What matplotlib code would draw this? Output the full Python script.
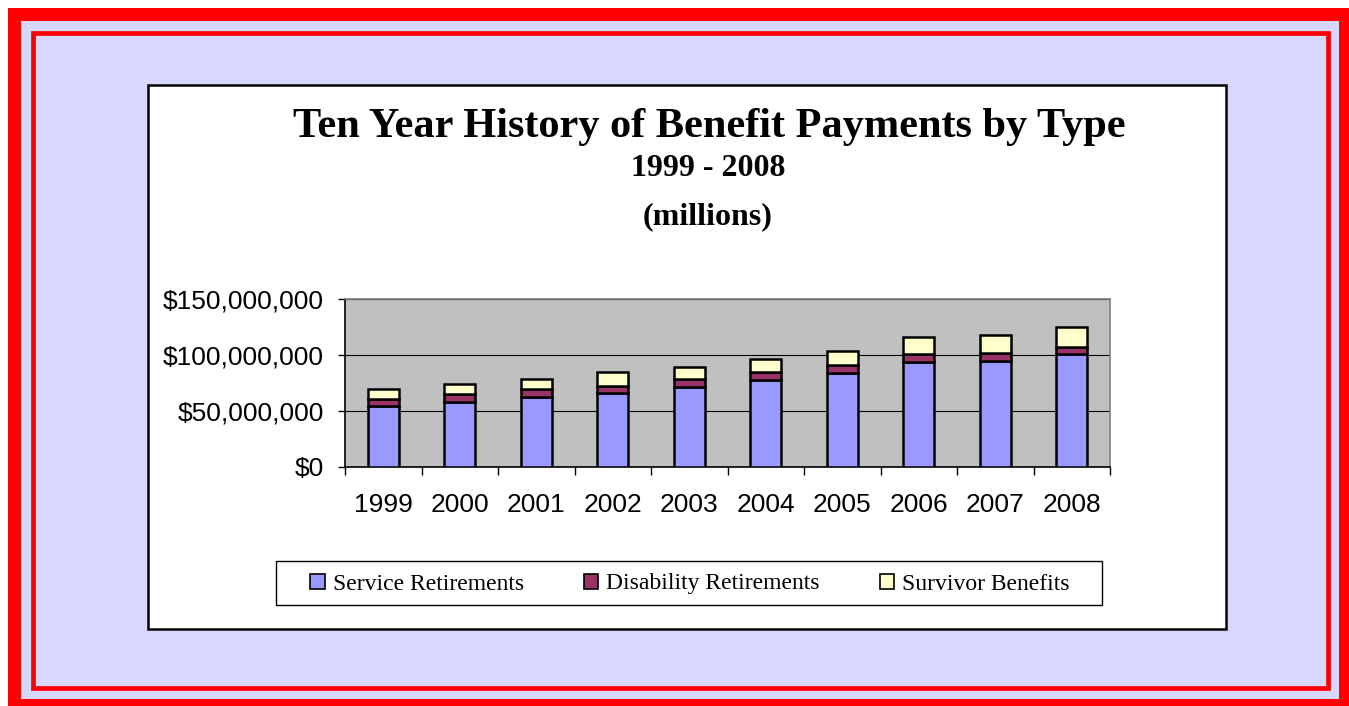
import numpy as np
import matplotlib
matplotlib.use("Agg")
import matplotlib.pyplot as plt
from matplotlib.patches import Rectangle, Patch
from matplotlib.ticker import FuncFormatter, MultipleLocator

years = ["1999", "2000", "2001", "2002", "2003", "2004", "2005", "2006", "2007", "2008"]
service = [54.2, 58.0, 62.2, 66.1, 71.4, 77.7, 84.2, 94.0, 94.9, 100.6]
disability = [6.8, 6.9, 7.2, 6.5, 6.9, 6.8, 6.6, 7.2, 6.9, 6.8]
survivor = [8.4, 9.5, 9.5, 11.9, 11.3, 12.2, 13.1, 15.1, 15.8, 17.9]
series_names = ["Service Retirements", "Disability Retirements", "Survivor Benefits"]
series_colors = ["#9999FF", "#993366", "#FFFFCC"]

W, H = 1349, 706

def box(x0, y0, x1, y1):
    # pixel box (top-left origin) -> figure fraction rectangle args
    return (x0 / W, 1 - y1 / H), (x1 - x0) / W, (y1 - y0) / H

fig = plt.figure(figsize=(W / 100, H / 100), dpi=100)
fig.patch.set_facecolor("white")

# red frame, lavender field, thin inner red rule, white chart panel
xy, w, h = box(8, 8, 1349, 706)
fig.patches.append(Rectangle(xy, w, h, transform=fig.transFigure, facecolor="#FF0000", edgecolor="none", zorder=0))
xy, w, h = box(21, 21, 1339, 699)
fig.patches.append(Rectangle(xy, w, h, transform=fig.transFigure, facecolor="#D8D8FF", edgecolor="none", zorder=1))
xy, w, h = box(32.5, 32.5, 1327.5, 687.5)
fig.patches.append(Rectangle(xy, w, h, transform=fig.transFigure, facecolor="none", edgecolor="#FF0000", linewidth=3.4, zorder=2))
xy, w, h = box(148, 85, 1226, 629)
fig.patches.append(Rectangle(xy, w, h, transform=fig.transFigure, facecolor="white", edgecolor="black", linewidth=1.8, zorder=3))
# legend frame
xy, w, h = box(276, 561, 1102, 605)
fig.patches.append(Rectangle(xy, w, h, transform=fig.transFigure, facecolor="white", edgecolor="black", linewidth=1.0, zorder=4))

ax = fig.add_axes([345 / W, 1 - 467 / H, 765 / W, 168 / H])
ax.set_zorder(5)
ax.set_facecolor("#C0C0C0")

x = np.arange(len(years))
svc = np.array(service) * 1e6
dis = np.array(disability) * 1e6
srv = np.array(survivor) * 1e6
bw = 0.4
ax.bar(x, svc, bw, color=series_colors[0], edgecolor="black", linewidth=1.8, zorder=3)
ax.bar(x, dis, bw, bottom=svc, color=series_colors[1], edgecolor="black", linewidth=1.8, zorder=3)
ax.bar(x, srv, bw, bottom=svc + dis, color=series_colors[2], edgecolor="black", linewidth=1.8, zorder=3)

ax.set_xlim(-0.5, len(years) - 0.5)
ax.set_ylim(0, 150e6)
ax.yaxis.set_major_locator(MultipleLocator(50e6))
ax.yaxis.set_major_formatter(FuncFormatter(lambda v, p: "${:,.0f}".format(v)))
ax.grid(axis="y", color="black", linewidth=0.8, zorder=1)
ax.set_axisbelow(True)

ax.set_xticks(x)
ax.set_xticklabels(years)
ax.set_xticks(np.arange(-0.5, len(years)), minor=True)
ax.tick_params(axis="x", which="major", length=0, pad=19, labelsize=19)
ax.tick_params(axis="x", which="minor", length=6, width=1, direction="out")
ax.tick_params(axis="y", length=5, width=1, direction="out", pad=10, labelsize=19)
for lab in ax.get_xticklabels() + ax.get_yticklabels():
    lab.set_fontfamily("Liberation Sans")

ax.spines["left"].set_color("black")
ax.spines["bottom"].set_color("black")
ax.spines["top"].set_color("#808080")
ax.spines["right"].set_color("#808080")
for s in ax.spines.values():
    s.set_linewidth(1.2)

fig.text(709 / W, 1 - 137 / H, "Ten Year History of Benefit Payments by Type", ha="center", va="baseline",
         fontsize=30.5, fontweight="bold", family="Liberation Serif", zorder=6)
fig.text(708 / W, 1 - 176 / H, "1999 - 2008", ha="center", va="baseline",
         fontsize=23, fontweight="bold", family="Liberation Serif", zorder=6)
fig.text(708 / W, 1 - 224 / H, "(millions)", ha="center", va="baseline",
         fontsize=23, fontweight="bold", family="Liberation Serif", zorder=6)

handles = [Patch(facecolor=c, edgecolor="black", linewidth=1.2) for c in series_colors]
leg = fig.legend(handles, series_names, loc="center", ncol=3,
                 bbox_to_anchor=(690 / W, 1 - 584 / H),
                 prop={"family": "Liberation Serif", "size": 17},
                 handlelength=0.6, handleheight=0.6, handletextpad=0.34,
                 columnspacing=2.55, borderpad=0, frameon=False)
leg.set_zorder(6)

fig.savefig("out.png", dpi=100)
